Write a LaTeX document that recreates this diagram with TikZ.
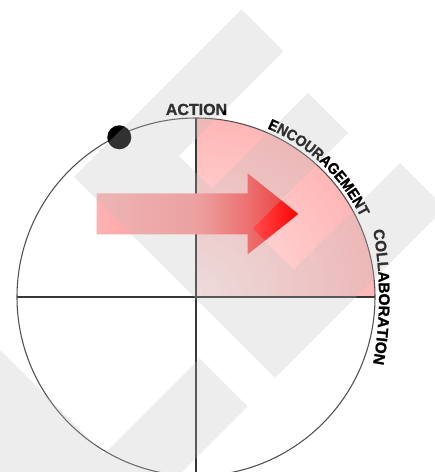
\documentclass[tikz,border=0pt]{standalone}
\usepackage{fontspec}
\newfontfamily\lblfont{Liberation Sans}[FakeBold=1.2]
\newfontfamily\encfont{Liberation Sans}[FakeStretch=0.92,FakeBold=1.2]
\usetikzlibrary{decorations.text}
\definecolor{wm}{RGB}{190,190,190}
\definecolor{sectin}{RGB}{255,230,230}
\definecolor{sectout}{RGB}{255,182,182}
\definecolor{aa}{RGB}{255,178,178}
\definecolor{ab}{RGB}{255,150,150}
\definecolor{ac}{RGB}{255,85,85}
\definecolor{ad}{RGB}{255,35,35}
\definecolor{ae}{RGB}{255,0,0}
\definecolor{linecol}{RGB}{55,55,55}
\definecolor{ringcol}{RGB}{80,80,80}
\pgfdeclarehorizontalshading{arrowsh}{100bp}{color(0bp)=(aa); color(25bp)=(aa); color(50bp)=(ab); color(62.5bp)=(ac); color(70bp)=(ad); color(75bp)=(ae); color(100bp)=(ae)}
\tikzset{
  hline/.style={draw=linecol, line width=1.2pt},
  vline/.style={draw=linecol, line width=1pt},
  ring/.style={draw=ringcol, line width=0.8pt},
  watermark/.style={fill=wm, fill opacity=0.263},
  lbl/.style={font=\lblfont\bfseries\fontsize{12pt}{12pt}\selectfont, inner sep=0pt},
}
\begin{document}
\begin{tikzpicture}[x=0.75pt,y=0.75pt]
\useasboundingbox (0,0) rectangle (435,472);
\clip (0,0) rectangle (435,472);
\fill[white] (0,0) rectangle (435,472);
\coordinate (c) at (196,175);
\coordinate (c2) at (1,175);
% pink quarter
\begin{scope}
\clip (c) -- ++(179,0) arc[start angle=0,end angle=90,radius=179] -- cycle;
\shade[inner color=sectin, outer color=sectout] (c) circle[radius=179];
\end{scope}
% axes
\coordinate (L) at (17,175);
\coordinate (R) at (375,175);
\coordinate (T) at (196,354);
\coordinate (B) at (196,0);
\draw[hline] (L) -- (R);
\draw[vline] (T) -- (B);
\draw[ring] (c) circle[radius=179];
% dot
\coordinate (dot) at (119.3,334.7);
\fill[black] (dot) circle[radius=12];
% arrow
\shade[shading=arrowsh] (96.7,278.7) -- (247.7,278.7) -- (247.7,298.7) -- (298.3,258) -- (247.7,217.7) -- (247.7,237.7) -- (96.7,237.7) -- cycle;
% labels
\node[lbl, anchor=base] (action) at (196.5,357) {ACTION};
\path[decorate, decoration={text along path, text align=center,
  text={|\encfont\bfseries\fontsize{11.5pt}{11.5pt}\selectfont|ENCOURAGEMENT}}]
  (c) ++(70:183) arc[start angle=70, end angle=23, radius=183];
\path[decorate, decoration={text along path, text align=center,
  text={|\lblfont\bfseries\fontsize{11.5pt}{11.5pt}\selectfont|COLLABORATION}}]
  (c2) ++(12:378) arc[start angle=12, end angle=-12, radius=378];
% watermark overlay
\fill[watermark] (74,295) -- (241.5,462.5) -- (283.5,420.5) -- (179,316) -- (212,283) -- (308,379) -- (348,339) -- (252.5,243.5) -- (293.5,202.5) -- (400,309) -- (445,264) -- (275,94) -- cycle;
\fill[watermark] (199.5,113.5) -- (247.5,65.5) -- (27,-155) -- (-200,-155) -- (-200,322) -- (104,18) -- cycle;
\end{tikzpicture}
\end{document}
